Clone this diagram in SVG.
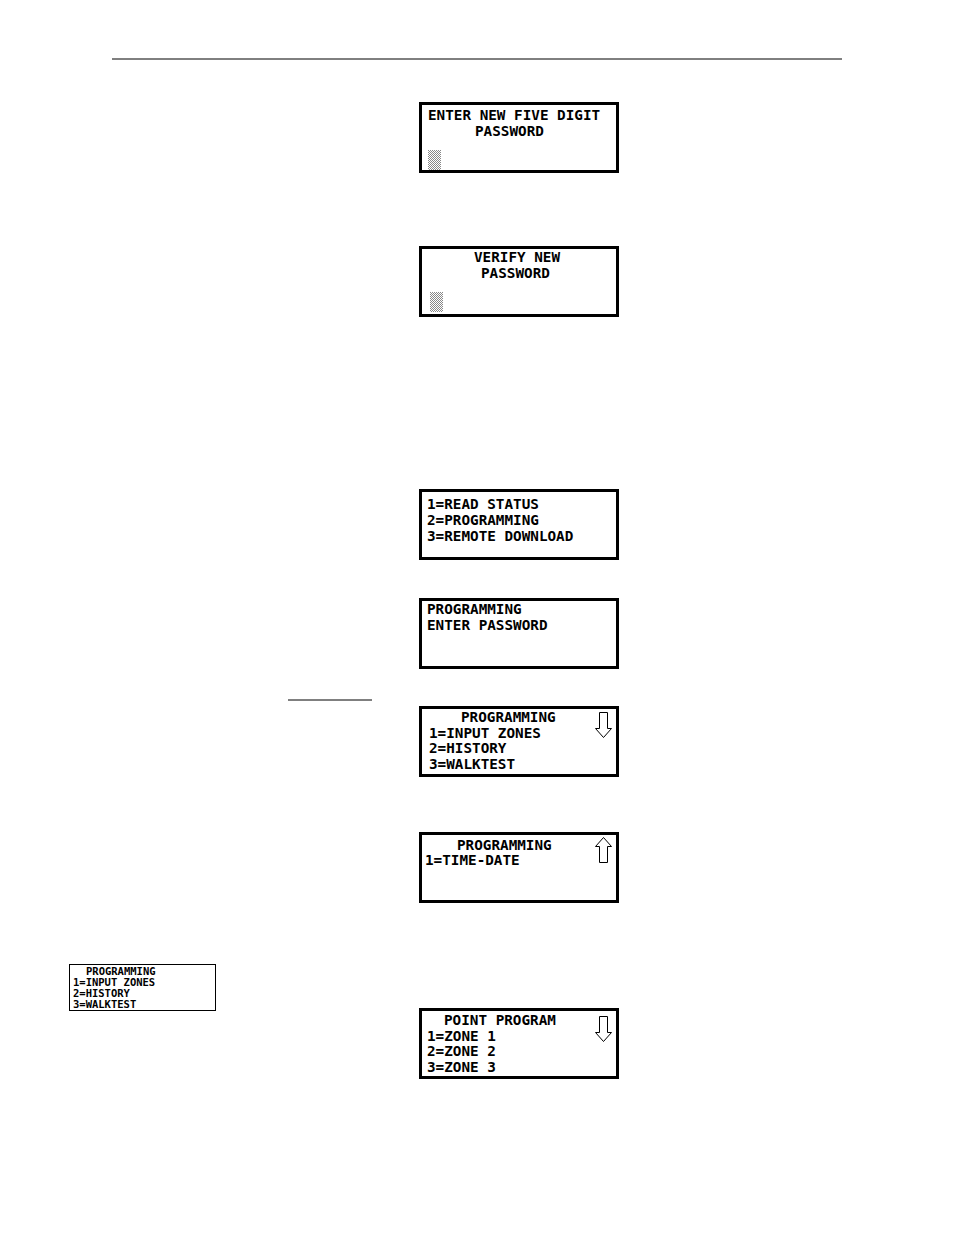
<svg xmlns="http://www.w3.org/2000/svg" width="954" height="1235" viewBox="0 0 954 1235">
<defs>
<pattern id="dots" width="2" height="2" patternUnits="userSpaceOnUse"><rect width="2" height="2" fill="#fff"/><rect width="1" height="1" fill="#888"/><rect x="1" y="1" width="1" height="1" fill="#888"/></pattern>
</defs>
<style>
.box{fill:#fff;stroke:#000;stroke-width:3}
.t{font-family:"DejaVu Sans Mono",monospace;font-size:14.3px;font-weight:bold;fill:#000}
.s{font-family:"DejaVu Sans Mono",monospace;font-size:10.5px;font-weight:bold;fill:#000}
.arr{fill:#fff;stroke:#000;stroke-width:1}
</style>
<rect width="954" height="1235" fill="#fff"/>
<g id="connectors">
<line x1="112" y1="59" x2="842" y2="59" stroke="#000" stroke-width="1"/>
<line x1="288" y1="700" x2="372" y2="700" stroke="#000" stroke-width="1"/>
</g>
<g id="n1"><rect class="box" x="420.5" y="103.5" width="197" height="68"/>
<text class="t" x="428" y="120">ENTER NEW FIVE DIGIT</text><text class="t" x="475" y="136">PASSWORD</text>
<rect x="428" y="150" width="13" height="20" fill="url(#dots)"/></g>
<g id="n2"><rect class="box" x="420.5" y="247.5" width="197" height="68"/>
<text class="t" x="474" y="262">VERIFY NEW</text><text class="t" x="481" y="278">PASSWORD</text>
<rect x="430" y="292" width="13" height="20" fill="url(#dots)"/></g>
<g id="n3"><rect class="box" x="420.5" y="490.5" width="197" height="68"/>
<text class="t" x="427" y="509">1=READ STATUS</text><text class="t" x="427" y="525">2=PROGRAMMING</text><text class="t" x="427" y="541">3=REMOTE DOWNLOAD</text></g>
<g id="n4"><rect class="box" x="420.5" y="599.5" width="197" height="68"/>
<text class="t" x="427" y="614">PROGRAMMING</text><text class="t" x="427" y="630">ENTER PASSWORD</text></g>
<g id="n5"><rect class="box" x="420.5" y="707.5" width="197" height="68"/>
<text class="t" x="461" y="722">PROGRAMMING</text><text class="t" x="429" y="738">1=INPUT ZONES</text><text class="t" x="429" y="753">2=HISTORY</text><text class="t" x="429" y="769">3=WALKTEST</text>
<path class="arr" d="M599.5 712.5h8v16h4l-8 9l-8-9h4z"/></g>
<g id="n6"><rect class="box" x="420.5" y="833.5" width="197" height="68"/>
<text class="t" x="457" y="850">PROGRAMMING</text><text class="t" x="425" y="865">1=TIME-DATE</text>
<path class="arr" d="M599.5 862.5h8v-16h4l-8-9l-8 9h4z"/></g>
<g id="n7"><rect x="69.5" y="964.5" width="146" height="46" fill="#fff" stroke="#000" stroke-width="1"/>
<text class="s" x="86" y="975">PROGRAMMING</text><text class="s" x="73" y="986">1=INPUT ZONES</text><text class="s" x="73" y="997">2=HISTORY</text><text class="s" x="73" y="1008">3=WALKTEST</text></g>
<g id="n8"><rect class="box" x="420.5" y="1009.5" width="197" height="68"/>
<text class="t" x="444" y="1025">POINT PROGRAM</text><text class="t" x="427" y="1041">1=ZONE 1</text><text class="t" x="427" y="1056">2=ZONE 2</text><text class="t" x="427" y="1072">3=ZONE 3</text>
<path class="arr" d="M599.5 1016.5h8v16h4l-8 9l-8-9h4z"/></g>
</svg>
